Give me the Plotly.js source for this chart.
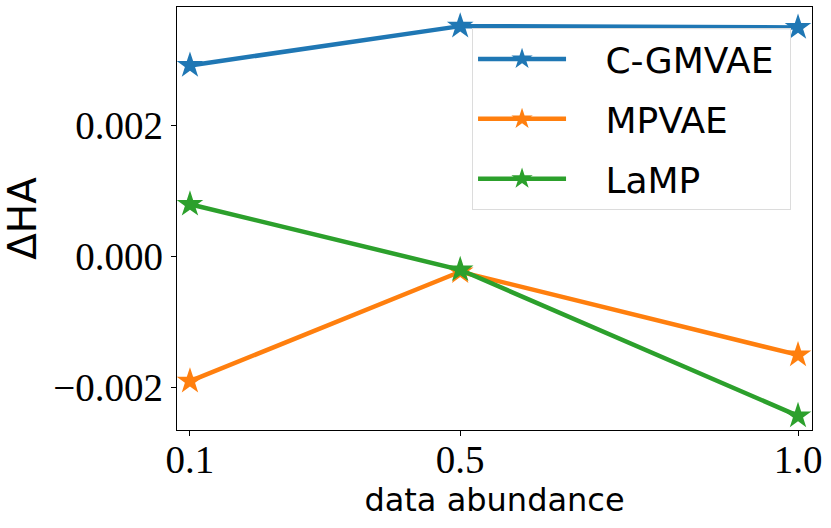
<!DOCTYPE html>
<html>
<head>
<meta charset="utf-8">
<script src="https://cdn.plot.ly/plotly-3.0.1.min.js"></script>
<style>
  html, body { margin: 0; padding: 0; background: #fff; }
  #chart { width: 831px; height: 528px; }
</style>
</head>
<body>
<div id="chart"></div>
<script>
// data
var abundance = [0.1, 0.5, 1.0];
var cgmvae = [0.00292, 0.00352, 0.00350];
var mpvae = [-0.00190, -0.00023, -0.00150];
var lamp = [0.00080, -0.00020, -0.00243];

var seriesNames = ['C-GMVAE', 'MPVAE', 'LaMP'];
var seriesColors = ['#1f77b4', '#ff7f0e', '#2ca02c'];
var seriesValues = [cgmvae, mpvae, lamp];

var xTickVals = [0.1, 0.5, 1.0];
var xTickText = ['0.1', '0.5', '1.0'];
var yTickVals = [-0.002, 0.0, 0.002];
var yTickText = ['\u22120.002', '0.000', '0.002'];

// matplotlib leaves a wider gap between legend handle and label
var labelPad = '\u00a0\u00a0\u00a0';

function makeTrace(i) {
  return {
    type: 'scatter',
    mode: 'lines+markers',
    x: abundance,
    y: seriesValues[i],
    name: labelPad + seriesNames[i] + '\u00a0',
    legendgroup: 'g' + i,
    line: {color: seriesColors[i], width: 4.5},
    marker: {symbol: 'star', size: 20, color: seriesColors[i], line: {width: 0}}
  };
}

var traces = [];
for (var i = 0; i < seriesNames.length; i++) {
  traces.push(makeTrace(i));
}

var tickFont = {family: 'Liberation Serif, serif', size: 39, color: '#000'};

var layout = {
  width: 831,
  height: 528,
  margin: {l: 177, r: 19, t: 7, b: 98},
  paper_bgcolor: '#fff',
  plot_bgcolor: '#fff',
  showlegend: true,
  legend: {
    x: 0.967, y: 0.95,
    xanchor: 'right', yanchor: 'top',
    bgcolor: 'rgba(255,255,255,0.85)',
    bordercolor: '#dcdcdc',
    borderwidth: 1,
    font: {family: 'DejaVu Sans, sans-serif', size: 36, color: '#000'},
    traceorder: 'grouped',
    tracegroupgap: 10,
    itemwidth: 88
  },
  xaxis: {
    range: [0.0808, 1.0207],
    tickvals: xTickVals,
    ticktext: xTickText,
    tickfont: tickFont,
    ticks: 'outside',
    ticklen: 5,
    tickcolor: '#000',
    ticklabelstandoff: -10,
    showgrid: false,
    zeroline: false,
    showline: true,
    mirror: true,
    linecolor: '#000',
    linewidth: 1.2,
    title: {text: 'data abundance', font: {family: 'DejaVu Sans, sans-serif', size: 32, color: '#000'}, standoff: 8}
  },
  yaxis: {
    range: [-0.002646, 0.003812],
    tickvals: yTickVals,
    ticktext: yTickText,
    tickfont: tickFont,
    ticks: 'outside',
    ticklen: 5,
    tickcolor: '#000',
    showgrid: false,
    zeroline: false,
    showline: true,
    mirror: true,
    linecolor: '#000',
    linewidth: 1.2,
    title: {text: '\u0394HA', font: {family: 'DejaVu Sans, sans-serif', size: 39, color: '#000'}, standoff: 12}
  }
};

Plotly.newPlot('chart', traces, layout, {staticPlot: true});
</script>
</body>
</html>
